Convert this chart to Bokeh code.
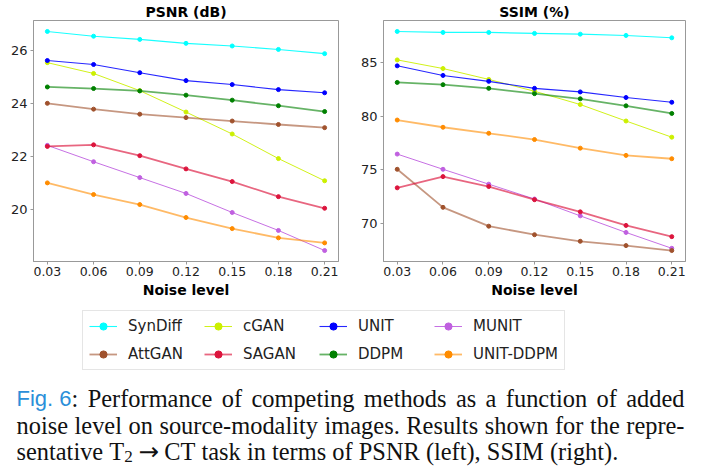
import numpy as np
from bokeh.plotting import figure
from bokeh.layouts import column, row
from bokeh.models import (Range1d, FixedTicker, NumeralTickFormatter, Legend,
                          LegendItem, ColumnDataSource)
from bokeh.core.properties import value
from bokeh.embed import file_html
from bokeh.resources import INLINE

# ---------------- data ----------------
noise_levels = [0.03, 0.06, 0.09, 0.12, 0.15, 0.18, 0.21]
methods = ["SynDiff", "cGAN", "UNIT", "MUNIT", "AttGAN", "SAGAN", "DDPM", "UNIT-DDPM"]

psnr_syndiff = [26.72, 26.54, 26.42, 26.27, 26.17, 26.04, 25.88]
psnr_cgan = [25.54, 25.13, 24.48, 23.67, 22.84, 21.91, 21.07]
psnr_unit = [25.62, 25.47, 25.16, 24.86, 24.71, 24.52, 24.40]
psnr_munit = [22.41, 21.79, 21.19, 20.59, 19.87, 19.19, 18.43]
psnr_attgan = [24.00, 23.78, 23.59, 23.46, 23.33, 23.20, 23.08]
psnr_sagan = [22.37, 22.43, 22.02, 21.52, 21.04, 20.47, 20.03]
psnr_ddpm = [24.62, 24.56, 24.47, 24.31, 24.12, 23.91, 23.69]
psnr_unit_ddpm = [20.99, 20.55, 20.17, 19.68, 19.26, 18.91, 18.72]

ssim_syndiff = [87.85, 87.76, 87.76, 87.67, 87.60, 87.48, 87.26]
ssim_cgan = [85.21, 84.41, 83.40, 82.30, 81.07, 79.54, 78.04]
ssim_unit = [84.66, 83.77, 83.22, 82.57, 82.24, 81.72, 81.28]
ssim_munit = [76.47, 75.06, 73.68, 72.30, 70.74, 69.20, 67.73]
ssim_attgan = [75.06, 71.53, 69.78, 68.99, 68.38, 67.98, 67.52]
ssim_sagan = [73.34, 74.38, 73.46, 72.24, 71.11, 69.85, 68.81]
ssim_ddpm = [83.12, 82.91, 82.57, 82.08, 81.60, 80.95, 80.24]
ssim_unit_ddpm = [79.63, 78.96, 78.40, 77.82, 77.02, 76.35, 76.04]

psnr_ticks = [20, 22, 24, 26]
ssim_ticks = [70, 75, 80, 85]

psnr_series = [psnr_syndiff, psnr_cgan, psnr_unit, psnr_munit,
               psnr_attgan, psnr_sagan, psnr_ddpm, psnr_unit_ddpm]
ssim_series = [ssim_syndiff, ssim_cgan, ssim_unit, ssim_munit,
               ssim_attgan, ssim_sagan, ssim_ddpm, ssim_unit_ddpm]

# ---------------- styles ----------------
colors = ["#00ffff", "#ccf000", "#0000ff", "#c060e0",
          "#a0522d", "#dc143c", "#008000", "#ff8c00"]
line_widths = [1.1, 1.0, 1.1, 1.0, 1.8, 1.8, 1.8, 1.8]
line_alphas = [0.9, 0.9, 0.85, 0.9, 0.6, 0.65, 0.6, 0.6]

FONT = "DejaVu Sans"
GRAY = "#999999"


def padded(series_list, frac=0.05):
    lo = min(min(s) for s in series_list)
    hi = max(max(s) for s in series_list)
    m = (hi - lo) * frac
    return lo - m, hi + m


def make_panel(title, series_list, yticks, width, left, right):
    xlo, xhi = padded([noise_levels])
    ylo, yhi = padded(series_list)
    p = figure(width=width, height=300, title=title,
               x_range=Range1d(xlo, xhi), y_range=Range1d(ylo, yhi),
               toolbar_location=None, output_backend="svg",
               min_border_left=left, min_border_right=right,
               min_border_top=19, min_border_bottom=38)
    p.title.align = "center"
    p.title.text_font = FONT
    p.title.text_font_size = "14px"
    p.title.text_font_style = "bold"
    p.title.text_color = "#000000"
    p.title.standoff = 2
    p.title.offset = 0
    p.xgrid.visible = False
    p.ygrid.visible = False
    p.outline_line_color = GRAY
    p.outline_line_width = 1
    p.background_fill_color = "white"
    p.border_fill_color = "white"
    for ax in (p.xaxis[0], p.yaxis[0]):
        ax.axis_line_color = GRAY
        ax.major_tick_line_color = GRAY
        ax.major_tick_out = 3
        ax.major_tick_in = 0
        ax.minor_tick_line_color = None
        ax.major_label_text_font = FONT
        ax.major_label_text_color = "#222222"
    p.xaxis.ticker = FixedTicker(ticks=noise_levels)
    p.xaxis.formatter = NumeralTickFormatter(format="0.00")
    p.xaxis.major_label_text_font_size = "12.5px"
    p.xaxis.major_label_standoff = 2
    p.xaxis.axis_label = "Noise level"
    p.xaxis.axis_label_text_font = FONT
    p.xaxis.axis_label_text_font_size = "14px"
    p.xaxis.axis_label_text_font_style = "bold"
    p.xaxis.axis_label_text_color = "#000000"
    p.xaxis.axis_label_standoff = 3
    p.yaxis.ticker = FixedTicker(ticks=yticks)
    p.yaxis.major_label_text_font_size = "13px"
    p.yaxis.major_label_standoff = 3
    for s, c, lw, la in zip(series_list, colors, line_widths, line_alphas):
        p.line(noise_levels, s, line_color=c, line_width=lw, line_alpha=la)
        p.scatter(noise_levels, s, marker="circle", size=4,
                  fill_color=c, line_color=c)
    return p


p1 = make_panel("PSNR (dB)", psnr_series, psnr_ticks, 357, 33, 19)
p2 = make_panel("SSIM (%)", ssim_series, ssim_ticks, 356, 24, 28)

# ---------------- legend strip ----------------
p_leg = figure(width=713, height=72, title=None,
               x_range=Range1d(0, 1), y_range=Range1d(0, 1),
               toolbar_location=None, output_backend="svg",
               min_border=0, min_border_left=0, min_border_right=0,
               min_border_top=0, min_border_bottom=0)
p_leg.axis.visible = False
p_leg.xgrid.visible = False
p_leg.ygrid.visible = False
p_leg.outline_line_color = None
items = []
for name, c, lw, la in zip(methods, colors, line_widths, line_alphas):
    # legend proxies: one NaN point, so nothing is drawn in the strip itself
    lr = p_leg.line([np.nan], [np.nan], line_color=c, line_width=lw, line_alpha=la)
    sr = p_leg.scatter([np.nan], [np.nan], marker="circle", size=4,
                       fill_color=c, line_color=c)
    items.append(LegendItem(label=name, renderers=[lr, sr]))
legend = Legend(items=items, orientation="horizontal", ncols=4,
                location=(82, 2), margin=0, padding=6, spacing=10,
                glyph_width=28, glyph_height=18, label_standoff=11,
                label_width=66, label_height=18,
                label_text_font=FONT, label_text_font_size="15px",
                label_text_color="#222222",
                border_line_color="#cccccc", border_line_width=1,
                background_fill_color="white", background_fill_alpha=0.8)
p_leg.add_layout(legend)

# ---------------- caption (justified, Times metrics) ----------------
TIMES = {' ': 250, '(': 333, ')': 333, ',': 250, '-': 333, '.': 250, ':': 278,
         '2': 500, '6': 500,
         'A': 722, 'B': 667, 'C': 667, 'D': 722, 'F': 556, 'I': 333, 'M': 889,
         'N': 722, 'P': 556, 'R': 667, 'S': 556, 'T': 611,
         'a': 444, 'b': 500, 'c': 444, 'd': 500, 'e': 444, 'f': 333, 'g': 500,
         'h': 500, 'i': 278, 'k': 500, 'l': 278, 'm': 778, 'n': 500, 'o': 500,
         'p': 500, 'r': 333, 's': 389, 't': 278, 'u': 500, 'v': 500, 'w': 722,
         'y': 500}
HELV = {'F': 611, 'i': 222, 'g': 556, '.': 278, ' ': 278, '6': 556}
ARROW_EM = 838  # advance of the arrow glyph in DejaVu Sans

F_SERIF = 24.4
F_SANS = 22.0
SERIF_FONT = "Liberation Serif"
SANS_FONT = "Liberation Sans"
LINK = "#2b8fd9"
INK = "#111111"
LEFT, RIGHT = 16.0, 684.0
baselines = [398.0, 424.7, 451.2]


def run(text, sans=False, scale=1.0, dy=0.0, pad_before=0.0, pad_after=0.0,
        font=None, em=None):
    table = HELV if sans else TIMES
    size = (F_SANS if sans else F_SERIF) * scale
    if em is not None:
        w = em * size / 1000.0
    else:
        w = sum(table[ch] for ch in text) * size / 1000.0
    fam = font if font else (SANS_FONT if sans else SERIF_FONT)
    return dict(text=text, font=fam, size=size, color=LINK if sans else INK,
                dy=dy, w=w, pb=pad_before, pa=pad_after)


def words_of(s):
    return [[run(w)] for w in s.split(" ")]


line1 = [[run("Fig. 6", sans=True), run(":")]] + words_of(
    "Performance of competing methods as a function of added")
line2 = words_of("noise level on source-modality images. Results shown for the repre-")
line3 = (words_of("sentative")
         + [[run("T"), run("2", scale=0.7, dy=4.5),
             run("\u2192", pad_before=6.0, pad_after=5.0,
                 font="DejaVu Sans", em=ARROW_EM),
             run("CT")]]
         + words_of("task in terms of PSNR (left), SSIM (right)."))
caption_lines = [(line1, True), (line2, True), (line3, False)]

cx, cy, ct, cf, cs, cc = [], [], [], [], [], []
for (words, justify), yb in zip(caption_lines, baselines):
    widths = [sum(r["w"] + r["pb"] + r["pa"] for r in wd) for wd in words]
    if justify:
        gap = (RIGHT - LEFT - sum(widths)) / (len(words) - 1)
    else:
        gap = TIMES[' '] * F_SERIF / 1000.0
    x = LEFT
    for wd, ww in zip(words, widths):
        xr = x
        for r in wd:
            xr += r["pb"]
            cx.append(xr)
            cy.append(yb + r["dy"])
            ct.append(r["text"])
            cf.append(r["font"])
            cs.append("%.1fpx" % r["size"])
            cc.append(r["color"])
            xr += r["w"] + r["pa"]
        x += ww + gap

p_cap = figure(width=713, height=94, title=None,
               x_range=Range1d(0, 713), y_range=Range1d(466, 372),
               toolbar_location=None, output_backend="svg",
               min_border=0, min_border_left=0, min_border_right=0,
               min_border_top=0, min_border_bottom=0)
p_cap.axis.visible = False
p_cap.xgrid.visible = False
p_cap.ygrid.visible = False
p_cap.outline_line_color = None
cap_src = ColumnDataSource(dict(x=cx, y=cy, text=ct, font=cf, size=cs, color=cc))
p_cap.text(x="x", y="y", text="text", text_font="font", text_font_size="size",
           text_color="color", text_baseline="alphabetic", text_align="left",
           source=cap_src)

layout = column(row(p1, p2), p_leg, p_cap)
open("out.html", "w").write(file_html(layout, INLINE))
